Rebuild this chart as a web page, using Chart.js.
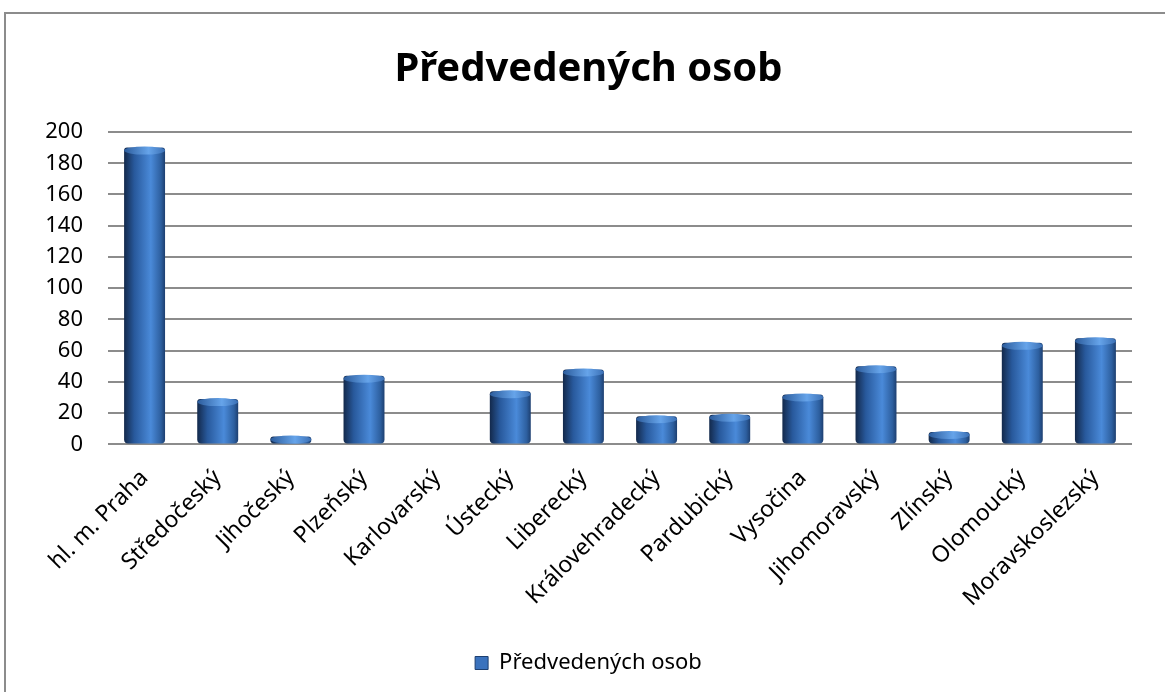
<!DOCTYPE html>
<html>
<head>
<meta charset="utf-8">
<script src="https://cdn.jsdelivr.net/npm/chart.js@4/dist/chart.umd.min.js"></script>
<style>
    body { margin: 0; background: #fff; overflow: hidden; }
    #wrap { position: relative; width: 1165px; height: 692px; }
    #frame { position: absolute; left: 4px; top: 12px; width: 1200px; height: 720px; border: 2px solid #8c8c8c; box-sizing: border-box; }
    #chart { position: absolute; left: 0; top: 0; }
</style>
</head>
<body>
<div id="wrap">
    <div id="frame"></div>
    <canvas id="chart" width="1165" height="692"></canvas>
</div>
<script>
// data
var regions = ['hl. m. Praha', 'Středočeský', 'Jihočeský', 'Plzeňský', 'Karlovarský', 'Ústecký', 'Liberecký',
    'Královehradecký', 'Pardubický', 'Vysočina', 'Jihomoravský', 'Zlínský', 'Olomoucký', 'Moravskoslezský']
var persons = [190, 29, 5, 44, 0, 34, 48, 18, 19, 32, 50, 8, 65, 68]
var seriesName = 'Předvedených osob'
var yTicks = [0, 20, 40, 60, 80, 100, 120, 140, 160, 180, 200]

var fontName = '"Noto Sans", sans-serif'

//cylinder look: gradient per bar + ellipse cap on top
var cylinderPlugin = {
    id: 'cylinder',
    beforeDatasetsDraw(chart) {
        var ctx = chart.ctx
        chart.getDatasetMeta(0).data.forEach(bar => {
            var w = bar.width
            var g = ctx.createLinearGradient(bar.x - w / 2, 0, bar.x + w / 2, 0)
            g.addColorStop(0, '#13294b')
            g.addColorStop(0.25, '#28599c')
            g.addColorStop(0.65, '#4a8ad9')
            g.addColorStop(0.9, '#2d5f9f')
            g.addColorStop(1, '#1d3f70')
            bar.options.backgroundColor = g
        })
    },
    afterDatasetsDraw(chart) {
        var ctx = chart.ctx
        chart.getDatasetMeta(0).data.forEach((bar, i) => {
            if (!persons[i]) return
            var w = bar.width
            var g = ctx.createLinearGradient(bar.x - w / 2, 0, bar.x + w / 2, 0)
            g.addColorStop(0, '#2c5c9c')
            g.addColorStop(0.6, '#66a4ea')
            g.addColorStop(1, '#3b70b5')
            ctx.save()
            ctx.fillStyle = g
            ctx.beginPath()
            ctx.ellipse(bar.x, bar.y + 3, w / 2, 4, 0, 0, Math.PI * 2)
            ctx.fill()
            ctx.restore()
        })
    }
}

var ctxChart = document.getElementById('chart').getContext('2d')

let personsChart = new Chart(ctxChart, {
    type: 'bar',
    data: {
        labels: regions,
        datasets: [{
            label: seriesName,
            data: persons,
            backgroundColor: () => '#2f63a8',
            categoryPercentage: 1,
            barPercentage: 0.56,
            borderRadius: { bottomLeft: 4, bottomRight: 4, topLeft: 3, topRight: 3 },
            borderSkipped: false
        }]
    },
    options: {
        responsive: false,
        animation: false,
        layout: {
            padding: { left: 45, right: 33, top: 46, bottom: 8 }
        },
        plugins: {
            title: {
                display: true,
                text: seriesName,
                color: '#000',
                font: { family: fontName, size: 40, weight: 'bold' },
                padding: { top: 0, bottom: 38 }
            },
            legend: {
                position: 'bottom',
                labels: {
                    color: '#000',
                    font: { family: fontName, size: 22 },
                    boxWidth: 13,
                    boxHeight: 13,
                    padding: 8,
                    generateLabels: chart => [{
                        text: seriesName,
                        fillStyle: '#3a72bd',
                        strokeStyle: '#1d3f70',
                        lineWidth: 1,
                        datasetIndex: 0
                    }]
                }
            },
            tooltip: { enabled: false }
        },
        scales: {
            x: {
                grid: { display: false },
                border: { display: false },
                afterFit: axis => {
                    axis.paddingLeft = 0
                    axis.height += 20
                },
                ticks: {
                    color: '#000',
                    font: { family: fontName, size: 23 },
                    minRotation: 45,
                    maxRotation: 45,
                    autoSkip: false,
                    padding: 12
                }
            },
            y: {
                min: 0,
                max: 200,
                afterBuildTicks: axis => { axis.ticks = yTicks.map(v => ({ value: v })) },
                afterFit: axis => { axis.width = 63 },
                grid: { color: '#8c8c8c', lineWidth: 2, drawTicks: false },
                border: { display: false },
                ticks: {
                    color: '#000',
                    font: { family: fontName, size: 22 },
                    padding: 25
                }
            }
        }
    },
    plugins: [cylinderPlugin]
})
</script>
</body>
</html>
